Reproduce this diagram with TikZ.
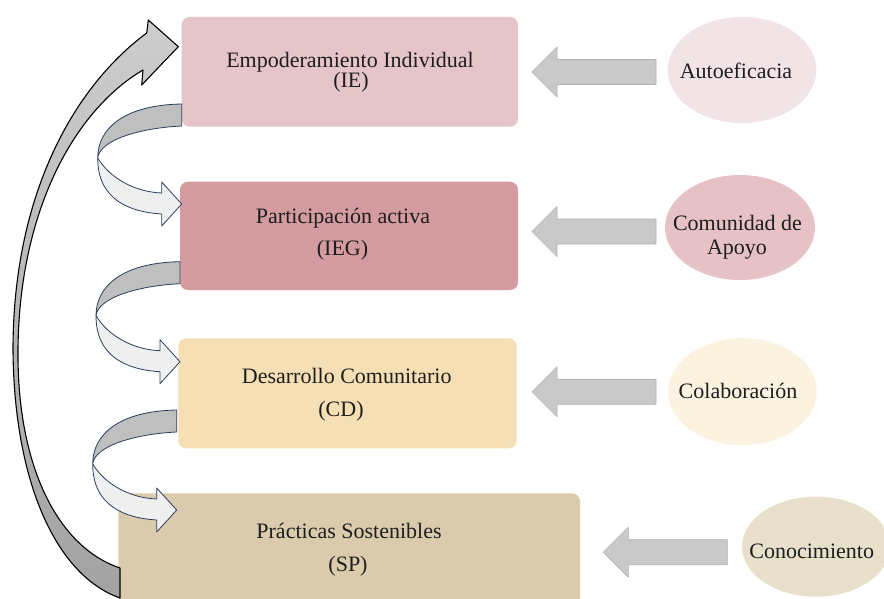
\documentclass[tikz,border=0pt]{standalone}
\usepackage{fontspec}
\setmainfont{Liberation Serif}
\usetikzlibrary{shapes.geometric}
\definecolor{cie}{HTML}{E6C5CA}
\definecolor{cieg}{HTML}{D49BA0}
\definecolor{ccd}{HTML}{F6DFB4}
\definecolor{csp}{HTML}{D9CBAB}
\definecolor{eauto}{HTML}{F2E4E6}
\definecolor{ecom}{HTML}{E6C2C7}
\definecolor{ecol}{HTML}{FBF2DF}
\definecolor{econ}{HTML}{E9E0CC}
\definecolor{txt}{HTML}{1E1E1E}
\definecolor{arrgray}{HTML}{C9C9C9}
\definecolor{arredge}{HTML}{B0B0B0}
\definecolor{ribedge}{HTML}{2E3D5C}
\definecolor{ribdark}{HTML}{BFBFBF}
\definecolor{riblight}{HTML}{EFEFEF}
\definecolor{bigtop}{HTML}{CDCDCD}
\definecolor{bigbot}{HTML}{A2A2A2}
\begin{document}
\begin{tikzpicture}[x=1pt,y=-1pt,
  box/.style={draw=none,rounded corners=8pt,inner sep=0pt},
  oval/.style={draw=none,ellipse,inner sep=0pt},
  lbl/.style={font=\fontsize{22}{26}\selectfont,text=txt,anchor=base,inner sep=0pt},
  blk/.style={fill=arrgray,draw=arredge,line width=0.6pt,line join=round},
  rib/.style={draw=ribedge,line width=0.8pt,line join=round},
  leftblk/.pic={\path[blk] (0,0) -- (25,-25) -- (25,-12.5) -- (124,-12.5) -- (124,12.5) -- (25,12.5) -- (25,25) -- cycle;},
  ribbon/.pic={
    \path[rib,fill=ribdark] (0,0) .. controls (-57,1) and (-84,24) .. (-84,54)
      .. controls (-82,36) and (-42,24) .. (0,22) -- cycle;
    \path[rib,fill=riblight] (-84,54) .. controls (-72,74) and (-47,88) .. (-20,89)
      -- (-20,78) -- (0,100) -- (-20,122) -- (-20,110)
      .. controls (-52,108) and (-84,96) .. (-84,54) -- cycle;}
]
\useasboundingbox (0,0) rectangle (884,599);
\clip (0,0) rectangle (884,599);
\fill[white] (0,0) rectangle (884,599);

% boxes
\node[box,fill=cie,minimum width=336.3pt,minimum height=109.7pt] (ie) at (349.85,71.85) {};
\node[box,fill=cieg,minimum width=338pt,minimum height=108.3pt] (ieg) at (349,235.85) {};
\node[box,fill=ccd,minimum width=338.4pt,minimum height=110pt] (cd) at (347.5,393.3) {};
\node[box,fill=csp,minimum width=461.7pt,minimum height=116.7pt] (sp) at (349.15,551.65) {};

% box texts
\node[lbl] (ie1) at (350,67.5) {Empoderamiento Individual};
\node[lbl] (ie2) at (351,88) {(IE)};
\node[lbl] (ieg1) at (343,223.3) {Participación activa};
\node[lbl] (ieg2) at (342.5,255) {(IEG)};
\node[lbl] (cd1) at (346.7,383.3) {Desarrollo Comunitario};
\node[lbl] (cd2) at (341,416.7) {(CD)};
\node[lbl] (sp1) at (349,538.3) {Prácticas Sostenibles};
\node[lbl] (sp2) at (348,571.7) {(SP)};

% ellipses
\node[oval,fill=eauto,minimum width=148.7pt,minimum height=106pt] (auto) at (742,70) {};
\node[oval,fill=ecom,minimum width=150pt,minimum height=105pt] (com) at (740,227.5) {};
\node[oval,fill=ecol,minimum width=148.4pt,minimum height=107pt] (col) at (742.5,391.7) {};
\node[oval,fill=econ,minimum width=148pt,minimum height=100pt] (con) at (816,546.7) {};

\node[lbl] (autot) at (736,79) {Autoeficacia};
\node[lbl] (comt1) at (737.5,230) {Comunidad de};
\node[lbl] (comt2) at (737,254) {Apoyo};
\node[lbl] (colt) at (738,398) {Colaboración};
\node[lbl] (cont) at (811.7,558) {Conocimiento};

% straight block arrows (ellipse -> box)
\coordinate (t1) at (532,72);
\coordinate (t2) at (532,231.5);
\coordinate (t3) at (532,391.7);
\coordinate (t4) at (603.3,552.2);
\pic at (t1) {leftblk};
\pic at (t2) {leftblk};
\pic at (t3) {leftblk};
\pic at (t4) {leftblk};

% big curved return arrow
\path[draw=black,line width=1.1pt,top color=bigtop,bottom color=bigbot,line join=round]
  (120,598) .. controls (55,575) and (14,480) .. (13,350)
  .. controls (13,200) and (70,90) .. (146.7,33)
  -- (148.3,20) -- (178.3,46.7) -- (141.7,85) -- (143,70)
  .. controls (75,110) and (19,210) .. (18,350)
  .. controls (17,470) and (60,548) .. (120,568) -- cycle;

% ribbon arrows between boxes
\coordinate (r1) at (181.7,104);
\coordinate (r2) at (180,261.7);
\coordinate (r3) at (176.7,410);
\pic at (r1) {ribbon};
\pic at (r2) {ribbon};
\pic at (r3) {ribbon};
\end{tikzpicture}
\end{document}
